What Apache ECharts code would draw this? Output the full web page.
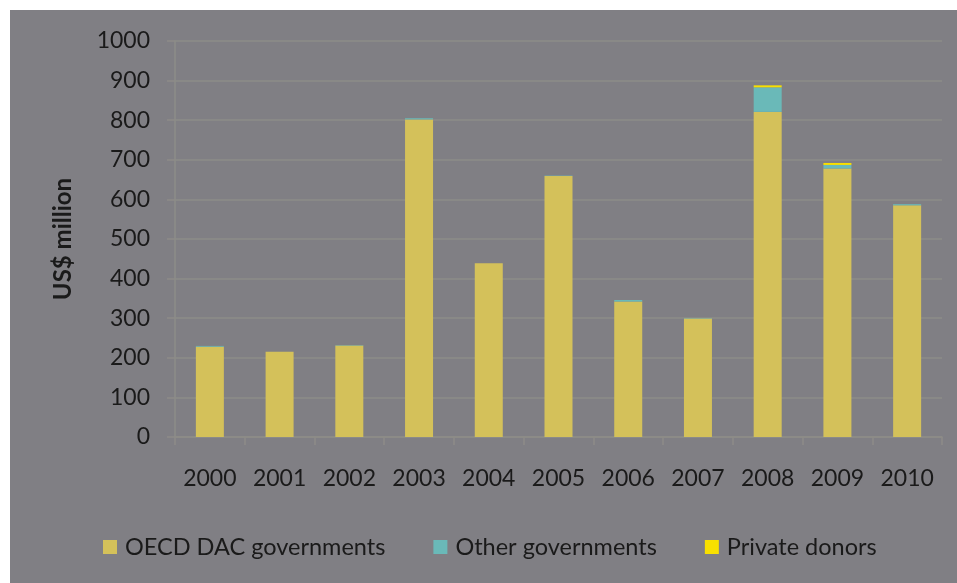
<!DOCTYPE html>
<html>
<head>
<meta charset="utf-8">
<script src="https://cdn.jsdelivr.net/npm/echarts@6/dist/echarts.min.js"></script>
<style>
  html, body { margin: 0; padding: 0; background: #ffffff; }
  #chart { position: absolute; left: 10px; top: 10px; width: 947px; height: 573px; }
</style>
</head>
<body>
<div id="chart"></div>
<script>
// Humanitarian funding by donor type, US$ million
const years = ['2000', '2001', '2002', '2003', '2004', '2005', '2006', '2007', '2008', '2009', '2010'];
const oecdDac = [228, 215, 231, 802, 439, 659, 342, 299, 821, 678, 585];
const otherGov = [2, 0, 1, 3, 0, 1, 4, 1, 62, 9, 3];
const privateDonors = [0, 0, 0, 0, 0, 0, 0, 0, 5, 5, 0];
const yTicks = { min: 0, max: 1000, interval: 100 };

const textColor = '#1a1a1a';
const lineColor = '#8d8c88';
const fontFamily = 'Lato, "Open Sans", sans-serif';

const chart = echarts.init(document.getElementById('chart'), null, { renderer: 'canvas' });

function barSeries(name, data, color) {
  return {
    name: name,
    type: 'bar',
    stack: 'total',
    data: data,
    barWidth: 28,
    itemStyle: { color: color },
    emphasis: { disabled: true }
  };
}

chart.setOption({
  backgroundColor: '#807f84',
  animation: false,
  textStyle: { fontFamily: fontFamily },
  grid: { left: 165, top: 31, width: 767, height: 396, containLabel: false },
  legend: {
    top: 520,
    left: 88,
    itemWidth: 14,
    itemHeight: 14,
    itemGap: 48,
    icon: 'rect',
    textStyle: { color: textColor, fontSize: 23.5, fontFamily: fontFamily, padding: [0, 0, 0, 3] },
    data: ['OECD DAC governments', 'Other governments', 'Private donors']
  },
  xAxis: {
    type: 'category',
    data: years,
    axisLine: { show: true, lineStyle: { color: lineColor, width: 1.5 } },
    axisTick: { show: true, length: 8, lineStyle: { color: lineColor, width: 1.5 } },
    axisLabel: { color: textColor, fontSize: 23, margin: 30, fontFamily: fontFamily }
  },
  yAxis: {
    type: 'value',
    min: yTicks.min,
    max: yTicks.max,
    interval: yTicks.interval,
    name: 'US$ million',
    nameLocation: 'middle',
    nameGap: 100,
    nameTextStyle: { color: textColor, fontSize: 24, fontWeight: 'bold', fontFamily: fontFamily },
    axisLine: { show: true, lineStyle: { color: lineColor, width: 1.5 } },
    axisTick: { show: true, length: 8, lineStyle: { color: lineColor, width: 1.5 } },
    splitLine: { show: true, lineStyle: { color: lineColor, width: 1.5 } },
    axisLabel: { color: textColor, fontSize: 23, margin: 25, fontFamily: fontFamily, formatter: (v) => String(v) }
  },
  series: [
    barSeries('OECD DAC governments', oecdDac, '#d4c15a'),
    barSeries('Other governments', otherGov, '#6ab9b8'),
    barSeries('Private donors', privateDonors, '#f8e000')
  ]
});
</script>
</body>
</html>
